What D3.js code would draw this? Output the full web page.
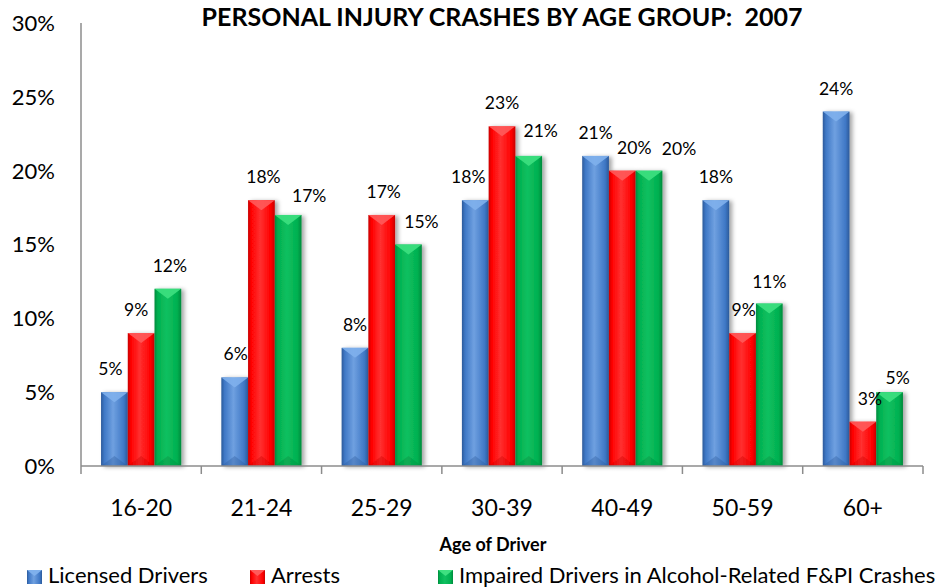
<!DOCTYPE html>
<html>
<head>
<meta charset="utf-8">
<title>Personal Injury Crashes by Age Group: 2007</title>
<script src="https://cdn.jsdelivr.net/npm/d3@7"></script>
<style>
  body { margin: 0; background: #fff; }
  svg { display: block; font-family: Lato, "Open Sans", sans-serif; }
</style>
</head>
<body>
<svg id="chart" width="938" height="588"></svg>
<script>
// data
var categories = ["16-20", "21-24", "25-29", "30-39", "40-49", "50-59", "60+"];
var seriesNames = ["Licensed Drivers", "Arrests", "Impaired Drivers in Alcohol-Related F&PI Crashes"];
var licensed = [5, 6, 8, 18, 21, 18, 24];
var arrests = [9, 18, 17, 23, 20, 9, 3];
var impaired = [12, 17, 15, 21, 20, 11, 5];
var yTicks = [0, 5, 10, 15, 20, 25, 30];

// label nudges (px), like the hand-moved labels in the original
var labelDx = [[-4, 1, 0, -7, 0, 0, 0], [-5, 2, 2, 0, 12, 1, 7], [2, 21, 13, 12, 30, 0, 8]];
var labelDy = [[0, 0, 0, 0, 0, 0, 0], [0, 0, 0, 0, 0, 0, 0], [0, 4, 0, -2, 1, 1, 9]];

var colors = [
  { mid: "#3f78c6", light: "#6fa0e0", dark: "#2c5a9a", cap: "#7fb0ec" },
  { mid: "#ff0000", light: "#ff3030", dark: "#c80000", cap: "#ff5a5a" },
  { mid: "#00b050", light: "#10c060", dark: "#008a3c", cap: "#3ee080" }
];

var svg = d3.select("#chart");
var plotLeft = 81, plotRight = 923, plotTop = 23, plotBottom = 466;

var x = d3.scaleBand().domain(categories).range([plotLeft, plotRight]).paddingInner(0).paddingOuter(0);
var x1 = d3.scaleBand().domain([0, 1, 2]).range([0, x.bandwidth()]).paddingOuter(0.75);
var y = d3.scaleLinear().domain([0, 30]).range([plotBottom, plotTop]);

var defs = svg.append("defs");
colors.forEach(function (c, i) {
  var g = defs.append("linearGradient").attr("id", "grad" + i).attr("x1", "0").attr("x2", "1").attr("y1", "0").attr("y2", "0");
  g.append("stop").attr("offset", "0").attr("stop-color", c.dark);
  g.append("stop").attr("offset", "0.12").attr("stop-color", c.mid);
  g.append("stop").attr("offset", "0.45").attr("stop-color", c.light);
  g.append("stop").attr("offset", "0.85").attr("stop-color", c.mid);
  g.append("stop").attr("offset", "1").attr("stop-color", c.dark);
});
var shadow = defs.append("filter").attr("id", "shadow").attr("x", "-20%").attr("y", "-10%").attr("width", "160%").attr("height", "120%");
shadow.append("feDropShadow").attr("dx", 3).attr("dy", 1).attr("stdDeviation", 2)
  .attr("flood-color", "#000").attr("flood-opacity", 0.35);

// title
svg.append("text").attr("x", 502).attr("y", 26).attr("text-anchor", "middle")
  .attr("font-weight", "bold").attr("font-size", 25).attr("fill", "#000")
  .style("white-space", "pre")
  .text("PERSONAL INJURY CRASHES BY AGE GROUP:  2007");

// y axis labels
svg.append("g").selectAll("text").data(yTicks).enter().append("text")
  .attr("x", 55).attr("y", function (d) { return y(d); })
  .attr("dy", "0.36em").attr("text-anchor", "end").attr("font-size", 22).attr("fill", "#000")
  .text(function (d) { return d + "%"; });

// bars
var all = [licensed, arrests, impaired];
var groups = svg.append("g").selectAll("g").data(categories).enter().append("g")
  .attr("transform", function (d) { return "translate(" + x(d) + ",0)"; });

groups.each(function (cat, ci) {
  var g = d3.select(this);
  all.forEach(function (vals, si) {
    var v = vals[ci];
    var bx = x1(si), bw = x1.bandwidth(), by = y(v), bh = y(0) - y(v);
    var bar = g.append("g").attr("filter", "url(#shadow)");
    bar.append("rect").attr("x", bx).attr("y", by).attr("width", bw).attr("height", bh)
      .attr("fill", "url(#grad" + si + ")");
    var ch = Math.min(10, bh / 2);
    bar.append("polygon")
      .attr("points", [[bx, by], [bx + bw, by], [bx + bw / 2, by + ch]].join(" "))
      .attr("fill", colors[si].cap).attr("opacity", 0.9);
    bar.append("polygon")
      .attr("points", [[bx, by + bh], [bx + bw, by + bh], [bx + bw / 2, by + bh - ch]].join(" "))
      .attr("fill", colors[si].dark).attr("opacity", 0.35);
  });
});

// data labels
groups.each(function (cat, ci) {
  var g = d3.select(this);
  all.forEach(function (vals, si) {
    var v = vals[ci];
    g.append("text")
      .attr("x", x1(si) + x1.bandwidth() / 2 + labelDx[si][ci])
      .attr("y", y(v) - 17 + labelDy[si][ci])
      .attr("text-anchor", "middle").attr("font-size", 17.5).attr("fill", "#000")
      .text(v + "%");
  });
});

// axes lines
var axisColor = "#8c8c8c";
svg.append("line").attr("x1", plotLeft).attr("x2", plotLeft).attr("y1", plotTop).attr("y2", plotBottom)
  .attr("stroke", axisColor).attr("stroke-width", 1.5);
svg.append("line").attr("x1", plotLeft).attr("x2", plotRight).attr("y1", plotBottom).attr("y2", plotBottom)
  .attr("stroke", axisColor).attr("stroke-width", 1.5);
var tickXs = categories.map(function (d) { return x(d); }).concat([plotRight]);
svg.append("g").selectAll("line").data(tickXs).enter().append("line")
  .attr("x1", function (d) { return d; }).attr("x2", function (d) { return d; })
  .attr("y1", plotBottom).attr("y2", plotBottom + 8)
  .attr("stroke", axisColor).attr("stroke-width", 1.5);

// x labels
svg.append("g").selectAll("text").data(categories).enter().append("text")
  .attr("x", function (d) { return x(d) + x.bandwidth() / 2; }).attr("y", 516)
  .attr("text-anchor", "middle").attr("font-size", 23).attr("fill", "#000")
  .text(function (d) { return d; });

svg.append("text").attr("x", 493).attr("y", 551).attr("text-anchor", "middle")
  .attr("font-weight", "bold").attr("font-size", 18).attr("fill", "#000")
  .text("Age of Driver");

// legend
var legendX = [27, 250, 438];
var leg = svg.append("g").selectAll("g").data(seriesNames).enter().append("g")
  .attr("transform", function (d, i) { return "translate(" + legendX[i] + ",570)"; });
leg.append("rect").attr("width", 15).attr("height", 14)
  .attr("fill", function (d, i) { return "url(#grad" + i + ")"; });
leg.append("polygon").attr("points", "0,0 15,0 7.5,6")
  .attr("fill", function (d, i) { return colors[i].cap; });
leg.append("text").attr("x", 21).attr("y", 13).attr("font-size", 22).attr("fill", "#000")
  .text(function (d) { return d; });
</script>
</body>
</html>
